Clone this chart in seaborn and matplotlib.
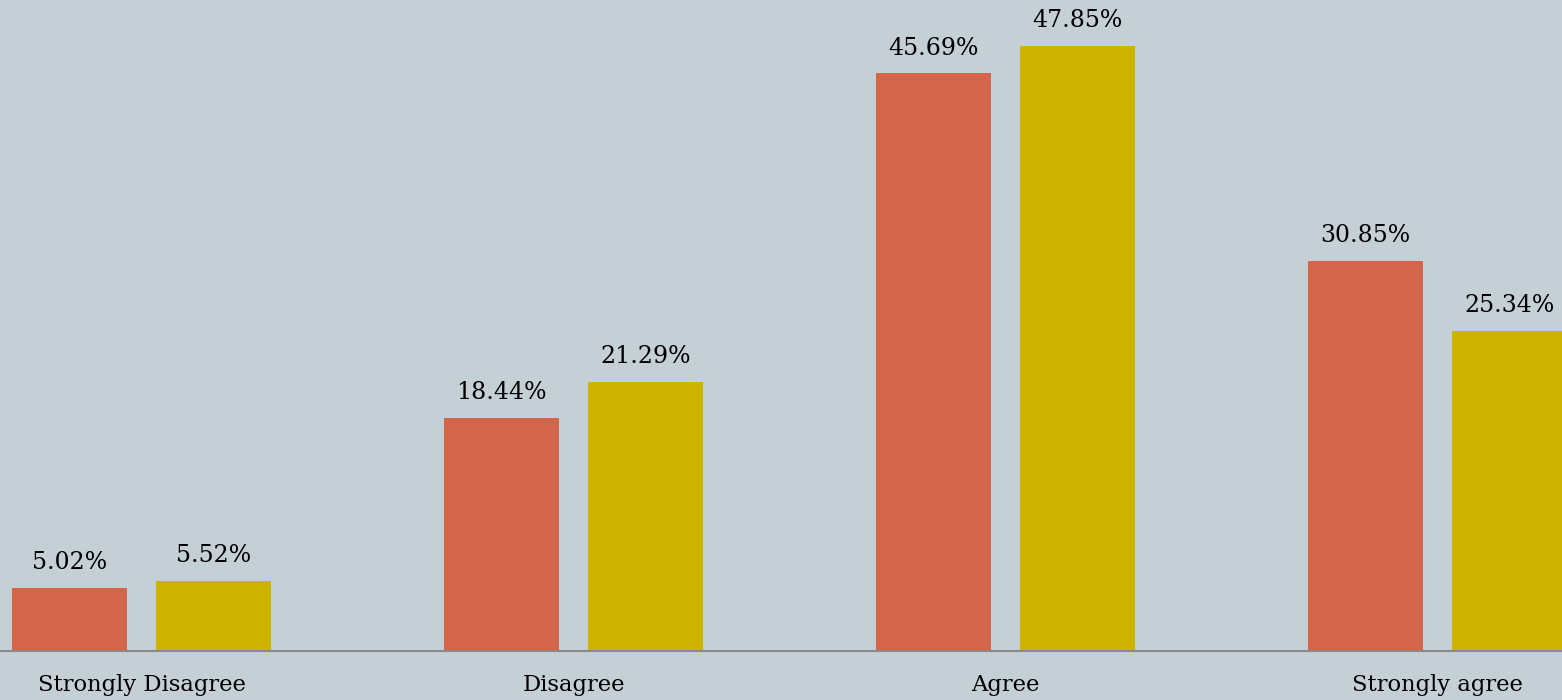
import matplotlib
matplotlib.use("Agg")
import matplotlib.pyplot as plt
import seaborn as sns
import pandas as pd

# Survey responses and the share of each response for two groups
responses = ["Strongly Disagree", "Disagree", "Agree", "Strongly agree"]
group_names = ["Group 1", "Group 2"]
group1_share = [5.02, 18.44, 45.69, 30.85]
group2_share = [5.52, 21.29, 47.85, 25.34]

bg = "#c5d0d6"
palette = ["#d4654b", "#cdb400"]

df = pd.DataFrame({
    "response": responses * 2,
    "share": group1_share + group2_share,
    "group": [group_names[0]] * 4 + [group_names[1]] * 4,
})

sns.set_theme(style="white")
plt.rcParams["font.family"] = ["DejaVu Serif"]

fig = plt.figure(figsize=(15.62, 7.0), dpi=100, facecolor=bg)
ax = fig.add_axes([0, 0.07, 1, 0.93])
ax.set_facecolor(bg)

sns.barplot(data=df, x="response", y="share", hue="group", order=responses,
            hue_order=group_names, palette=palette, width=0.667, gap=0.2,
            saturation=1, legend=False, ax=ax, edgecolor="none")

for cont in ax.containers:
    ax.bar_label(cont, fmt="%.2f%%", padding=10, fontsize=17, color="#000000")

ax.set_xlim(-0.3275, 3.288)
ax.set_ylim(0, 51.5)
ax.set_xlabel("")
ax.set_ylabel("")
ax.set_yticks([])
ax.tick_params(axis="x", length=0, pad=16.5, labelsize=16.3, labelcolor="#000000")
for side in ["top", "left", "right"]:
    ax.spines[side].set_visible(False)
ax.spines["bottom"].set_color("#8a8a8a")
ax.spines["bottom"].set_linewidth(1.5)

fig.savefig("out.png", dpi=100, facecolor=bg)
